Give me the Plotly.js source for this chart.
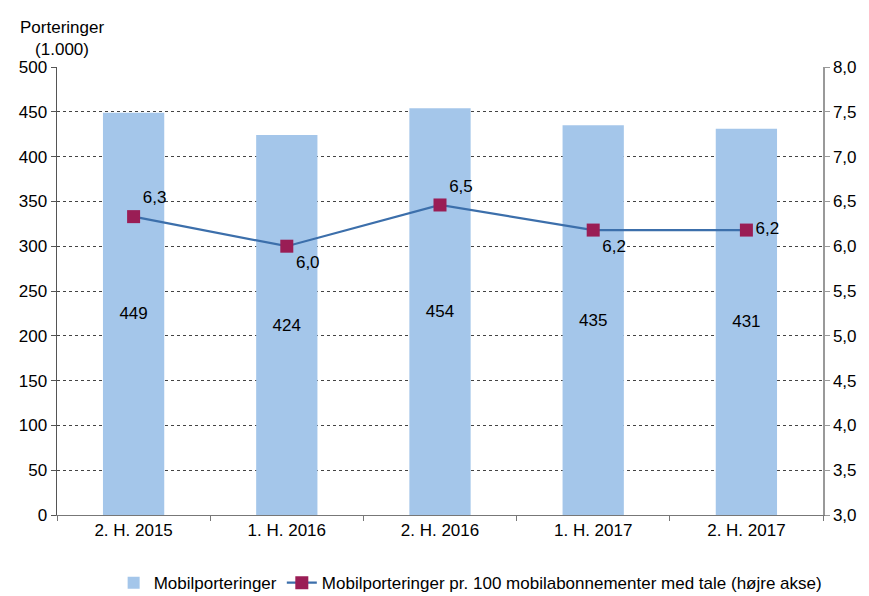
<!DOCTYPE html>
<html>
<head>
<meta charset="utf-8">
<script src="https://cdn.plot.ly/plotly-3.0.1.min.js"></script>
<style>html,body{margin:0;padding:0;background:#fff;}#chart{width:869px;height:596px;}</style>
</head>
<body>
<div id="chart"></div>
<script>
const categories = ["2. H. 2015", "1. H. 2016", "2. H. 2016", "1. H. 2017", "2. H. 2017"];
const porteringer = [449, 424, 454, 435, 431];
const perHundred = [6.33, 6.0, 6.46, 6.18, 6.18];
const perHundredLabels = ["6,3", "6,0", "6,5", "6,2", "6,2"];
const labelPositions = ["top right", "bottom right", "top right", "bottom right", "middle right"];

const font = "Liberation Sans, Arial, sans-serif";
const fs = 17;

const traces = [
  {
    type: "bar",
    name: "Mobilporteringer",
    x: categories,
    y: porteringer,
    width: 0.4,
    marker: {color: "#A4C6EA"},
    text: porteringer.map(String),
    textposition: "inside",
    insidetextanchor: "middle",
    textfont: {family: font, size: fs, color: "#000"},
    hoverinfo: "x+y"
  },
  {
    type: "scatter",
    mode: "lines+markers+text",
    name: "Mobilporteringer pr. 100 mobilabonnementer med tale (højre akse)",
    x: categories,
    y: perHundred,
    yaxis: "y2",
    line: {color: "#3C6FAB", width: 2.2},
    marker: {symbol: "square", size: 13, color: "#9A1D55"},
    text: perHundredLabels,
    textposition: labelPositions,
    textfont: {family: font, size: fs, color: "#000"},
    cliponaxis: false
  }
];

const layout = {
  width: 869,
  height: 596,
  margin: {l: 57, r: 46, t: 67, b: 81, autoexpand: false},
  paper_bgcolor: "#fff",
  plot_bgcolor: "#fff",
  separators: ",.",
  font: {family: font, size: fs, color: "#000"},
  showlegend: true,
  legend: {
    orientation: "h",
    x: 0.54, xanchor: "center",
    y: -0.152, yanchor: "middle",
    font: {family: font, size: fs, color: "#000"},
    traceorder: "normal"
  },
  xaxis: {
    type: "category",
    tickson: "boundaries",
    ticks: "outside",
    ticklen: 5,
    tickcolor: "#777",
    showline: true,
    linecolor: "#777",
    linewidth: 1,
    showgrid: false,
    automargin: false,
    tickfont: {family: font, size: fs, color: "#000"}
  },
  yaxis: {
    range: [0, 500],
    dtick: 50,
    ticks: "outside",
    ticklen: 5,
    tickcolor: "#555",
    showline: true,
    linecolor: "#555",
    linewidth: 1.5,
    showgrid: true,
    gridcolor: "#444",
    griddash: "dot",
    gridwidth: 1,
    zeroline: false,
    automargin: false,
    tickfont: {family: font, size: fs, color: "#000"}
  },
  yaxis2: {
    range: [3, 8],
    dtick: 0.5,
    tickformat: ".1f",
    overlaying: "y",
    side: "right",
    ticks: "outside",
    ticklen: 5,
    tickcolor: "#999",
    showline: true,
    linecolor: "#999",
    linewidth: 1.5,
    showgrid: false,
    zeroline: false,
    automargin: false,
    tickfont: {family: font, size: fs, color: "#000"}
  },
  annotations: [
    {
      text: "Porteringer<br>(1.000)",
      xref: "paper", yref: "paper",
      x: 0.006, y: 1.0,
      xanchor: "center", yanchor: "bottom",
      yshift: 6,
      showarrow: false,
      align: "center",
      font: {family: font, size: fs, color: "#000"}
    }
  ]
};

Plotly.newPlot("chart", traces, layout, {displayModeBar: false, staticPlot: true});
</script>
</body>
</html>
